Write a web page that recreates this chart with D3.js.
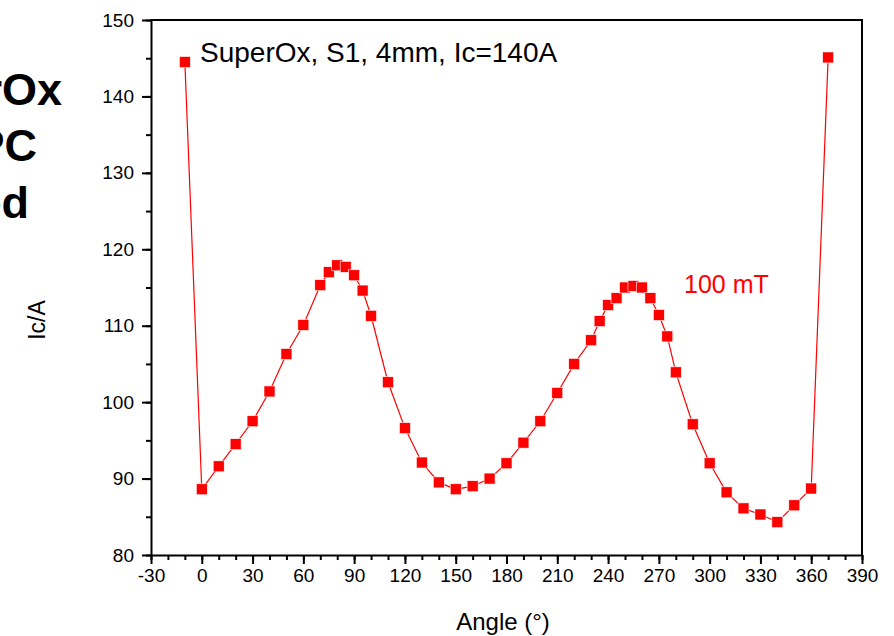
<!DOCTYPE html>
<html>
<head>
<meta charset="utf-8">
<script src="https://cdn.jsdelivr.net/npm/d3@7"></script>
<style>
  body { margin: 0; background: #fff; }
  svg { display: block; font-family: "Liberation Sans", Arial, sans-serif; }
</style>
</head>
<body>
<svg id="chart" width="894" height="636"></svg>
<script>
const angles = [-10, 0, 10, 20, 30, 40, 50, 60, 70, 75, 80, 85, 90, 95, 100, 110, 120, 130, 140, 150,
  160, 170, 180, 190, 200, 210, 220, 230, 235, 240, 245, 250, 255, 260, 265, 270, 275, 280, 290,
  300, 310, 320, 330, 340, 350, 360, 370]
const icValues = [144.5, 88.6, 91.6, 94.5, 97.5, 101.4, 106.3, 110.1, 115.3, 117.0, 117.9, 117.7, 116.6,
  114.6, 111.3, 102.6, 96.6, 92.1, 89.5, 88.6, 89.0, 90.0, 92.0, 94.7, 97.5, 101.2, 105.0, 108.1,
  110.6, 112.7, 113.6, 115.0, 115.2, 115.0, 113.6, 111.4, 108.6, 103.9, 97.1, 92.0, 88.2, 86.1,
  85.3, 84.3, 86.5, 88.7, 145.1]
const xTicks = d3.range(-30, 391, 30)
const yTicks = d3.range(80, 151, 10)

const data = angles.map((a, i) => ({angle: a, ic: icValues[i]}))

const svg = d3.select('#chart')
const margin = {top: 20, right: 32, bottom: 81, left: 151}
const width = 894 - margin.left - margin.right
const height = 636 - margin.top - margin.bottom

const x = d3.scaleLinear().domain([-30, 390]).range([0, width])
const y = d3.scaleLinear().domain([80, 150]).range([height, 0])

const g = svg.append('g').attr('transform', `translate(${margin.left}, ${margin.top})`)

// frame (top + right)
g.append('path')
  .attr('d', `M0,0H${width}V${height}`)
  .attr('fill', 'none')
  .attr('stroke', '#000')
  .attr('stroke-width', 2)

// minor ticks
g.append('g')
  .attr('transform', `translate(0, ${height})`)
  .call(d3.axisBottom(x).tickValues(d3.range(-30, 391, 10)).tickSize(5).tickSizeOuter(0).tickFormat(''))
  .call(a => a.selectAll('line').attr('stroke-width', 2))
  .call(a => a.select('.domain').remove())

g.append('g')
  .call(d3.axisLeft(y).tickValues(d3.range(80, 151, 5)).tickSize(5).tickSizeOuter(0).tickFormat(''))
  .call(a => a.selectAll('line').attr('stroke-width', 2))
  .call(a => a.select('.domain').remove())

// major axes
g.append('g')
  .attr('transform', `translate(0, ${height})`)
  .call(d3.axisBottom(x).tickValues(xTicks).tickSize(9).tickSizeOuter(0).tickPadding(5)
    .tickFormat(d => String(d)))
  .call(a => a.selectAll('line').attr('stroke-width', 2))
  .call(a => a.select('.domain').attr('stroke-width', 2))
  .call(a => a.selectAll('text').attr('font-size', 19).attr('fill', '#000')
    .attr('font-family', '"Liberation Sans", Arial, sans-serif'))

g.append('g')
  .call(d3.axisLeft(y).tickValues(yTicks).tickSize(9).tickSizeOuter(0).tickPadding(8)
    .tickFormat(d => String(d)))
  .call(a => a.selectAll('line').attr('stroke-width', 2))
  .call(a => a.select('.domain').attr('stroke-width', 2))
  .call(a => a.selectAll('text').attr('font-size', 19).attr('fill', '#000')
    .attr('font-family', '"Liberation Sans", Arial, sans-serif'))

// series
const line = d3.line()
  .x(d => x(d.angle))
  .y(d => y(d.ic))

g.append('path')
  .datum(data)
  .attr('fill', 'none')
  .attr('stroke', '#ff0000')
  .attr('stroke-width', 1.2)
  .attr('d', line)

const ms = 11
g.selectAll('rect.pt')
  .data(data)
  .join('rect')
  .attr('class', 'pt')
  .attr('x', d => x(d.angle) - ms / 2)
  .attr('y', d => y(d.ic) - ms / 2)
  .attr('width', ms)
  .attr('height', ms)
  .attr('fill', '#ff0000')
  .attr('stroke', '#fff')
  .attr('stroke-width', 0.6)

// labels
svg.append('text')
  .attr('x', 200).attr('y', 62)
  .attr('font-size', 28)
  .text('SuperOx, S1, 4mm, Ic=140A')

svg.append('text')
  .attr('x', 684).attr('y', 293)
  .attr('font-size', 25)
  .attr('fill', '#ff0000')
  .text('100 mT')

svg.append('text')
  .attr('transform', 'translate(45, 320) rotate(-90)')
  .attr('text-anchor', 'middle')
  .attr('font-size', 23)
  .text('Ic/A')

svg.append('text')
  .attr('x', 503).attr('y', 630)
  .attr('text-anchor', 'middle')
  .attr('font-size', 24)
  .text('Angle (°)')

// side text from the neighbouring slide, cut at the left edge as in the reference
const sideLines = [['SuperOx', 62, 105], ['HTS DPC', 37, 161], ['Tested', 29, 218]]
svg.selectAll('text.side')
  .data(sideLines)
  .join('text')
  .attr('class', 'side')
  .attr('x', d => d[1])
  .attr('y', d => d[2])
  .attr('text-anchor', 'end')
  .attr('font-size', 45)
  .attr('font-weight', 'bold')
  .text(d => d[0])
</script>
</body>
</html>
